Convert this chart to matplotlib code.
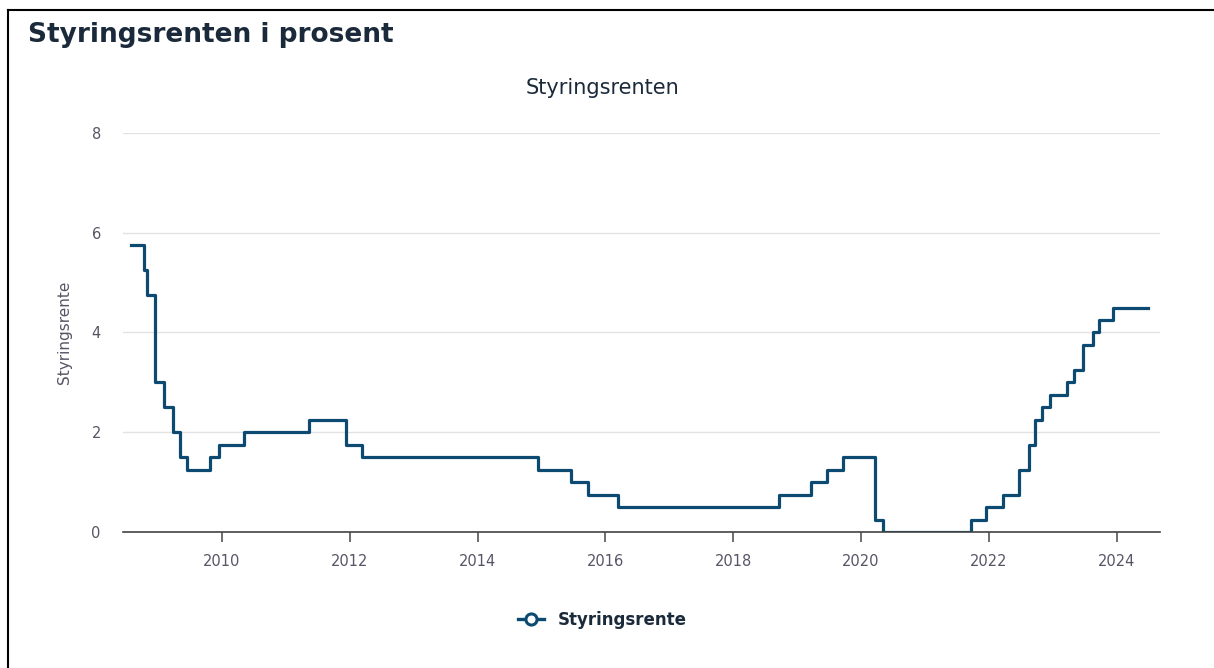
import pandas as pd
import matplotlib.pyplot as plt
import matplotlib.dates as mdates
from matplotlib.lines import Line2D

# Norges Bank styringsrente, endringsdatoer og nytt nivå
datoer = [
    '2008-08-01', '2008-10-15', '2008-10-29', '2008-12-17', '2009-02-04',
    '2009-03-25', '2009-05-06', '2009-06-17', '2009-10-28', '2009-12-16',
    '2010-05-05', '2011-05-12', '2011-12-14', '2012-03-14', '2014-12-11',
    '2015-06-18', '2015-09-23', '2016-03-16', '2018-09-20', '2019-03-21',
    '2019-06-20', '2019-09-19', '2020-03-20', '2020-05-07',
    '2021-09-23', '2021-12-16', '2022-03-24', '2022-06-23', '2022-08-18',
    '2022-09-22', '2022-11-03', '2022-12-15', '2023-03-23', '2023-05-04',
    '2023-06-22', '2023-08-17', '2023-09-21', '2023-12-14', '2024-07-01',
]
renter = [
    5.75, 5.25, 4.75, 3.00, 2.50,
    2.00, 1.50, 1.25, 1.50, 1.75,
    2.00, 2.25, 1.75, 1.50, 1.25,
    1.00, 0.75, 0.50, 0.75, 1.00,
    1.25, 1.50, 0.25, 0.00,
    0.25, 0.50, 0.75, 1.25, 1.75,
    2.25, 2.50, 2.75, 3.00, 3.25,
    3.75, 4.00, 4.25, 4.50, 4.50,
]
aar_ticks = [2010, 2012, 2014, 2016, 2018, 2020, 2022, 2024]
y_ticks = [0, 2, 4, 6, 8]

farge = '#0d4a72'
tekst = '#1b2a3a'
graa = '#555566'

df = pd.DataFrame({'dato': pd.to_datetime(datoer), 'rente': renter})

fig = plt.figure(figsize=(12.14, 6.68), dpi=100)
ax = fig.add_axes([0.1013, 0.2036, 0.8542, 0.5973])

ax.step(df['dato'], df['rente'], where='post', color=farge, linewidth=2.3)

ax.set_ylim(0, 8)
ax.set_xlim(pd.Timestamp('2008-06-15'), pd.Timestamp('2024-09-05'))
ax.set_yticks(y_ticks)
ax.set_xticks([pd.Timestamp(f'{a}-01-01') for a in aar_ticks])
ax.xaxis.set_major_formatter(mdates.DateFormatter('%Y'))

ax.grid(axis='y', color='#e2e2e2', linewidth=1)
ax.set_axisbelow(True)
for s in ['top', 'right', 'left']:
    ax.spines[s].set_visible(False)
ax.spines['bottom'].set_color('#444444')
ax.spines['bottom'].set_linewidth(1.2)
ax.tick_params(axis='y', length=0, pad=16, labelsize=10.5, labelcolor=graa)
ax.tick_params(axis='x', length=7, width=1.2, color='#555555', pad=9,
               labelsize=10.5, labelcolor=graa)
ax.set_ylabel('Styringsrente', fontsize=11, color=graa, labelpad=14)

fig.text(0.496, 0.869, 'Styringsrenten', fontsize=15, color=tekst,
         ha='center', va='center')

fig.text(0.023, 0.947, 'Styringsrenten i prosent', fontsize=19,
         fontweight='semibold', color=tekst, va='center', ha='left')

handle = Line2D([], [], color=farge, linewidth=2.4, marker='o',
                markersize=8, markerfacecolor='white', markeredgewidth=2.2,
                markeredgecolor=farge)
fig.legend([handle], ['Styringsrente'], loc='center',
           bbox_to_anchor=(0.496, 0.072), frameon=False, handlelength=1.6,
           prop={'weight': 'bold', 'size': 12}, labelcolor=tekst)

# ramme øverst og til venstre
fig.add_artist(Line2D([0.0066, 1.0], [0.985, 0.985], color='black', linewidth=1.5,
                      transform=fig.transFigure))
fig.add_artist(Line2D([0.0066, 0.0066], [0.0, 0.985], color='black', linewidth=1.5,
                      transform=fig.transFigure))

fig.savefig('out.png', dpi=100, facecolor='white')
